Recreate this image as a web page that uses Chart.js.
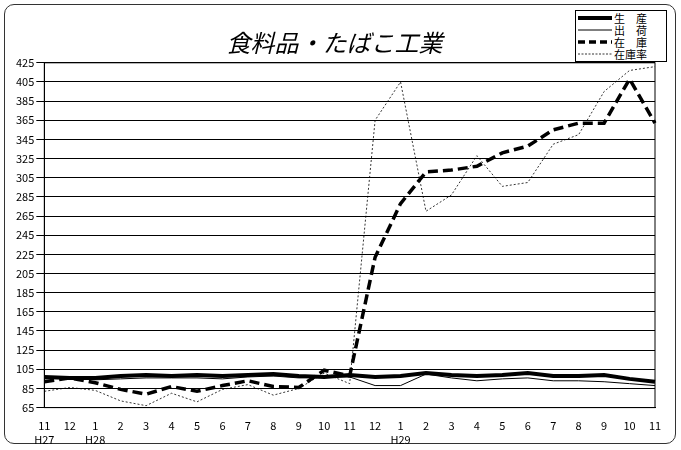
<!DOCTYPE html>
<html><head><meta charset="utf-8">
<script src="https://cdn.jsdelivr.net/npm/chart.js@4/dist/chart.umd.min.js"></script>
<style>
body{margin:0;background:#fff;font-family:"Noto Sans CJK JP",sans-serif;}
#frame{position:absolute;left:4px;top:4px;width:670px;height:438px;border:1px solid #333;border-radius:10px;}
#wrap{position:absolute;left:0;top:0;width:681px;height:450px;}
#legend{position:absolute;left:575px;top:10px;width:86px;border:1px solid #000;background:#fff;font-size:11px;line-height:12px;padding:1px 2px;white-space:nowrap;}
#legend div{display:flex;align-items:center;height:12px;}
#legend span{margin-left:2px;letter-spacing:0;}
</style></head><body>
<div id="frame"></div>
<div id="wrap"><canvas id="c" width="681" height="450"></canvas></div>
<div id="legend">
<div><svg width="34" height="8"><line x1="0" y1="4" x2="34" y2="4" stroke="#000" stroke-width="4"/></svg><span>生　産</span></div>
<div><svg width="34" height="8"><line x1="0" y1="4" x2="34" y2="4" stroke="#000" stroke-width="1"/></svg><span>出　荷</span></div>
<div><svg width="34" height="8"><line x1="0" y1="4" x2="34" y2="4" stroke="#000" stroke-width="3.5" stroke-dasharray="7,4"/></svg><span>在　庫</span></div>
<div><svg width="34" height="8"><line x1="0" y1="4" x2="34" y2="4" stroke="#000" stroke-width="0.8" stroke-dasharray="2,1.5"/></svg><span>在庫率</span></div>
</div>
<script>
// 月ラベル
const months = ["11","12","1","2","3","4","5","6","7","8","9","10","11","12","1","2","3","4","5","6","7","8","9","10","11"];
const years = ["H27","","H28","","","","","","","","","","","","H29","","","","","","","","","",""];
const seisan = [97,96,96,98,99,98,99,98,99,100,98,97,99,97,98,101,99,98,99,101,98,98,99,95,92];
const shukka = [95,96,94,95,96,96,96,95,97,98,96,97,97,88,88,100,96,93,95,96,93,93,92,90,88];
const zaiko = [92,96,91,84,79,87,82,88,93,87,86,104,98,222,278,311,313,317,331,338,355,362,362,408,362];
const zaikoritsu = [82,86,83,72,67,80,71,84,89,78,85,101,90,365,405,270,287,328,296,300,340,350,395,417,421];
const yTicks = [];
for (let v = 65; v <= 425; v += 20) yTicks.push(v);

const labels = months.map((m, i) => [m, years[i]]);
const ds = (d, w, dash) => ({data: d, borderColor: "#000", borderWidth: w, borderDash: dash, pointRadius: 0, tension: 0, fill: false});

new Chart(document.getElementById("c"), {
	type: "line",
	data: {
		labels: labels,
		datasets: [
			ds(seisan, 4, []),
			ds(shukka, 1, []),
			ds(zaiko, 3.5, [10, 5]),
			ds(zaikoritsu, 0.8, [2, 2])
		]
	},
	options: {
		responsive: false,
		animation: false,
		layout: {padding: {left: 14, right: 26, top: 14, bottom: 0}},
		plugins: {
			legend: {display: false},
			tooltip: {enabled: false},
			title: {display: true, text: "食料品・たばこ工業", color: "#000",
				font: {size: 24, style: "italic", family: "Noto Sans CJK JP", weight: "normal"},
				padding: {top: 14, bottom: 6}}
		},
		scales: {
			x: {
				offset: false,
				grid: {display: false, drawTicks: true},
				border: {color: "#000"},
				ticks: {color: "#000", font: {size: 11, family: "Noto Sans CJK JP"}, maxRotation: 0, autoSkip: false, padding: 4}
			},
			y: {
				min: 65, max: 425,
				afterBuildTicks: s => { s.ticks = yTicks.map(v => ({value: v})); },
				grid: {color: "#000", lineWidth: 1},
				border: {color: "#000"},
				ticks: {color: "#000", font: {size: 11, family: "Noto Sans CJK JP"}, padding: 2}
			}
		}
	},
	plugins: [{
		id: "box",
		afterDraw(ch) {
			const a = ch.chartArea, c = ch.ctx;
			c.save(); c.strokeStyle = "#000"; c.lineWidth = 1;
			c.strokeRect(a.left, a.top, a.right - a.left, a.bottom - a.top);
			c.restore();
		}
	}]
});
</script>
</body></html>
